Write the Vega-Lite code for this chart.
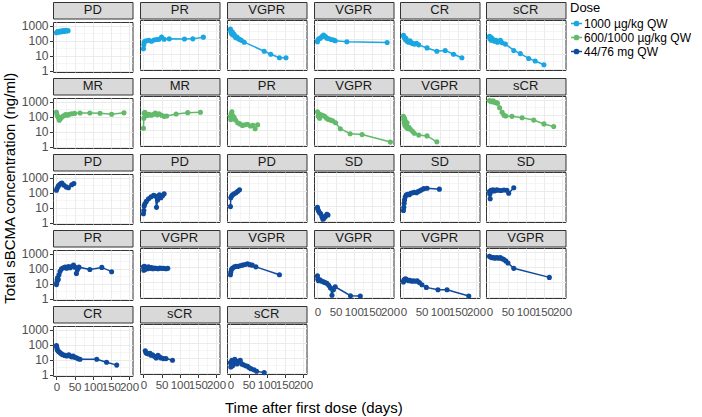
{
"$schema":"https://vega.github.io/schema/vega-lite/v6.json",
"padding":{"left":2,"right":2,"top":1,"bottom":2},
"title":{"text":"Time after first dose (days)","orient":"bottom","anchor":"middle","fontSize":15,"fontWeight":"normal","color":"#000000","offset":8,"dx":-33},
"data":{"values":[
{"p":1,"Dose":"1000 µg/kg QW","t":0,"v":350},{"p":1,"Dose":"1000 µg/kg QW","t":3,"v":420},{"p":1,"Dose":"1000 µg/kg QW","t":7,"v":380},{"p":1,"Dose":"1000 µg/kg QW","t":10,"v":450},{"p":1,"Dose":"1000 µg/kg QW","t":14,"v":400},{"p":1,"Dose":"1000 µg/kg QW","t":18,"v":480},{"p":1,"Dose":"1000 µg/kg QW","t":21,"v":420},{"p":1,"Dose":"1000 µg/kg QW","t":25,"v":500},{"p":1,"Dose":"1000 µg/kg QW","t":28,"v":450},{"p":1,"Dose":"1000 µg/kg QW","t":32,"v":480},
{"p":2,"Dose":"1000 µg/kg QW","t":0,"v":22},{"p":2,"Dose":"1000 µg/kg QW","t":1,"v":40},{"p":2,"Dose":"1000 µg/kg QW","t":2,"v":60},{"p":2,"Dose":"1000 µg/kg QW","t":4,"v":70},{"p":2,"Dose":"1000 µg/kg QW","t":8,"v":75},{"p":2,"Dose":"1000 µg/kg QW","t":15,"v":80},{"p":2,"Dose":"1000 µg/kg QW","t":22,"v":70},{"p":2,"Dose":"1000 µg/kg QW","t":29,"v":85},{"p":2,"Dose":"1000 µg/kg QW","t":36,"v":90},{"p":2,"Dose":"1000 µg/kg QW","t":43,"v":95},{"p":2,"Dose":"1000 µg/kg QW","t":50,"v":130},{"p":2,"Dose":"1000 µg/kg QW","t":57,"v":95},{"p":2,"Dose":"1000 µg/kg QW","t":71,"v":100},{"p":2,"Dose":"1000 µg/kg QW","t":113,"v":98},{"p":2,"Dose":"1000 µg/kg QW","t":136,"v":100},{"p":2,"Dose":"1000 µg/kg QW","t":165,"v":130},
{"p":3,"Dose":"1000 µg/kg QW","t":0,"v":450},{"p":3,"Dose":"1000 µg/kg QW","t":1,"v":300},{"p":3,"Dose":"1000 µg/kg QW","t":3,"v":220},{"p":3,"Dose":"1000 µg/kg QW","t":5,"v":300},{"p":3,"Dose":"1000 µg/kg QW","t":7,"v":180},{"p":3,"Dose":"1000 µg/kg QW","t":10,"v":200},{"p":3,"Dose":"1000 µg/kg QW","t":12,"v":150},{"p":3,"Dose":"1000 µg/kg QW","t":15,"v":120},{"p":3,"Dose":"1000 µg/kg QW","t":18,"v":130},{"p":3,"Dose":"1000 µg/kg QW","t":22,"v":100},{"p":3,"Dose":"1000 µg/kg QW","t":26,"v":90},{"p":3,"Dose":"1000 µg/kg QW","t":30,"v":80},{"p":3,"Dose":"1000 µg/kg QW","t":38,"v":60},{"p":3,"Dose":"1000 µg/kg QW","t":93,"v":15},{"p":3,"Dose":"1000 µg/kg QW","t":111,"v":9.5},{"p":3,"Dose":"1000 µg/kg QW","t":135,"v":5.5},{"p":3,"Dose":"1000 µg/kg QW","t":153,"v":5.5},
{"p":4,"Dose":"1000 µg/kg QW","t":0,"v":65},{"p":4,"Dose":"1000 µg/kg QW","t":1,"v":85},{"p":4,"Dose":"1000 µg/kg QW","t":4,"v":100},{"p":4,"Dose":"1000 µg/kg QW","t":8,"v":110},{"p":4,"Dose":"1000 µg/kg QW","t":12,"v":140},{"p":4,"Dose":"1000 µg/kg QW","t":17,"v":180},{"p":4,"Dose":"1000 µg/kg QW","t":22,"v":140},{"p":4,"Dose":"1000 µg/kg QW","t":26,"v":110},{"p":4,"Dose":"1000 µg/kg QW","t":31,"v":105},{"p":4,"Dose":"1000 µg/kg QW","t":38,"v":90},{"p":4,"Dose":"1000 µg/kg QW","t":45,"v":85},{"p":4,"Dose":"1000 µg/kg QW","t":49,"v":75},{"p":4,"Dose":"1000 µg/kg QW","t":81,"v":64},{"p":4,"Dose":"1000 µg/kg QW","t":192,"v":58},
{"p":5,"Dose":"1000 µg/kg QW","t":0,"v":170},{"p":5,"Dose":"1000 µg/kg QW","t":1,"v":150},{"p":5,"Dose":"1000 µg/kg QW","t":3,"v":120},{"p":5,"Dose":"1000 µg/kg QW","t":5,"v":90},{"p":5,"Dose":"1000 µg/kg QW","t":7,"v":110},{"p":5,"Dose":"1000 µg/kg QW","t":10,"v":70},{"p":5,"Dose":"1000 µg/kg QW","t":14,"v":60},{"p":5,"Dose":"1000 µg/kg QW","t":18,"v":75},{"p":5,"Dose":"1000 µg/kg QW","t":22,"v":55},{"p":5,"Dose":"1000 µg/kg QW","t":25,"v":50},{"p":5,"Dose":"1000 µg/kg QW","t":30,"v":45},{"p":5,"Dose":"1000 µg/kg QW","t":36,"v":50},{"p":5,"Dose":"1000 µg/kg QW","t":42,"v":40},{"p":5,"Dose":"1000 µg/kg QW","t":65,"v":25},{"p":5,"Dose":"1000 µg/kg QW","t":92,"v":15},{"p":5,"Dose":"1000 µg/kg QW","t":115,"v":17},{"p":5,"Dose":"1000 µg/kg QW","t":138,"v":9.5},{"p":5,"Dose":"1000 µg/kg QW","t":161,"v":5.5},
{"p":6,"Dose":"1000 µg/kg QW","t":0,"v":150},{"p":6,"Dose":"1000 µg/kg QW","t":1,"v":100},{"p":6,"Dose":"1000 µg/kg QW","t":3,"v":130},{"p":6,"Dose":"1000 µg/kg QW","t":5,"v":80},{"p":6,"Dose":"1000 µg/kg QW","t":7,"v":110},{"p":6,"Dose":"1000 µg/kg QW","t":10,"v":90},{"p":6,"Dose":"1000 µg/kg QW","t":14,"v":70},{"p":6,"Dose":"1000 µg/kg QW","t":18,"v":80},{"p":6,"Dose":"1000 µg/kg QW","t":22,"v":60},{"p":6,"Dose":"1000 µg/kg QW","t":26,"v":70},{"p":6,"Dose":"1000 µg/kg QW","t":30,"v":80},{"p":6,"Dose":"1000 µg/kg QW","t":35,"v":55},{"p":6,"Dose":"1000 µg/kg QW","t":44,"v":45},{"p":6,"Dose":"1000 µg/kg QW","t":67,"v":17},{"p":6,"Dose":"1000 µg/kg QW","t":85,"v":10.5},{"p":6,"Dose":"1000 µg/kg QW","t":108,"v":5},{"p":6,"Dose":"1000 µg/kg QW","t":126,"v":3.4},{"p":6,"Dose":"1000 µg/kg QW","t":150,"v":1.9},
{"p":7,"Dose":"600/1000 µg/kg QW","t":0,"v":200},{"p":7,"Dose":"600/1000 µg/kg QW","t":2,"v":130},{"p":7,"Dose":"600/1000 µg/kg QW","t":5,"v":90},{"p":7,"Dose":"600/1000 µg/kg QW","t":8,"v":60},{"p":7,"Dose":"600/1000 µg/kg QW","t":12,"v":80},{"p":7,"Dose":"600/1000 µg/kg QW","t":16,"v":100},{"p":7,"Dose":"600/1000 µg/kg QW","t":20,"v":120},{"p":7,"Dose":"600/1000 µg/kg QW","t":25,"v":140},{"p":7,"Dose":"600/1000 µg/kg QW","t":30,"v":130},{"p":7,"Dose":"600/1000 µg/kg QW","t":35,"v":150},{"p":7,"Dose":"600/1000 µg/kg QW","t":42,"v":160},{"p":7,"Dose":"600/1000 µg/kg QW","t":50,"v":170},{"p":7,"Dose":"600/1000 µg/kg QW","t":65,"v":180},{"p":7,"Dose":"600/1000 µg/kg QW","t":92,"v":180},{"p":7,"Dose":"600/1000 µg/kg QW","t":120,"v":175},{"p":7,"Dose":"600/1000 µg/kg QW","t":152,"v":150},{"p":7,"Dose":"600/1000 µg/kg QW","t":186,"v":185},
{"p":8,"Dose":"600/1000 µg/kg QW","t":0,"v":13},{"p":8,"Dose":"600/1000 µg/kg QW","t":1,"v":60},{"p":8,"Dose":"600/1000 µg/kg QW","t":2,"v":130},{"p":8,"Dose":"600/1000 µg/kg QW","t":4,"v":150},{"p":8,"Dose":"600/1000 µg/kg QW","t":7,"v":100},{"p":8,"Dose":"600/1000 µg/kg QW","t":10,"v":90},{"p":8,"Dose":"600/1000 µg/kg QW","t":14,"v":110},{"p":8,"Dose":"600/1000 µg/kg QW","t":18,"v":100},{"p":8,"Dose":"600/1000 µg/kg QW","t":22,"v":95},{"p":8,"Dose":"600/1000 µg/kg QW","t":28,"v":110},{"p":8,"Dose":"600/1000 µg/kg QW","t":33,"v":130},{"p":8,"Dose":"600/1000 µg/kg QW","t":38,"v":100},{"p":8,"Dose":"600/1000 µg/kg QW","t":43,"v":120},{"p":8,"Dose":"600/1000 µg/kg QW","t":50,"v":95},{"p":8,"Dose":"600/1000 µg/kg QW","t":57,"v":80},{"p":8,"Dose":"600/1000 µg/kg QW","t":64,"v":85},{"p":8,"Dose":"600/1000 µg/kg QW","t":90,"v":115},{"p":8,"Dose":"600/1000 µg/kg QW","t":122,"v":140},{"p":8,"Dose":"600/1000 µg/kg QW","t":157,"v":150},
{"p":9,"Dose":"600/1000 µg/kg QW","t":0,"v":80},{"p":9,"Dose":"600/1000 µg/kg QW","t":1,"v":50},{"p":9,"Dose":"600/1000 µg/kg QW","t":2,"v":120},{"p":9,"Dose":"600/1000 µg/kg QW","t":4,"v":160},{"p":9,"Dose":"600/1000 µg/kg QW","t":6,"v":90},{"p":9,"Dose":"600/1000 µg/kg QW","t":8,"v":60},{"p":9,"Dose":"600/1000 µg/kg QW","t":10,"v":70},{"p":9,"Dose":"600/1000 µg/kg QW","t":14,"v":45},{"p":9,"Dose":"600/1000 µg/kg QW","t":20,"v":30},{"p":9,"Dose":"600/1000 µg/kg QW","t":26,"v":25},{"p":9,"Dose":"600/1000 µg/kg QW","t":33,"v":20},{"p":9,"Dose":"600/1000 µg/kg QW","t":40,"v":22},{"p":9,"Dose":"600/1000 µg/kg QW","t":47,"v":24},{"p":9,"Dose":"600/1000 µg/kg QW","t":55,"v":18},{"p":9,"Dose":"600/1000 µg/kg QW","t":62,"v":20},{"p":9,"Dose":"600/1000 µg/kg QW","t":68,"v":12},{"p":9,"Dose":"600/1000 µg/kg QW","t":75,"v":22},
{"p":10,"Dose":"600/1000 µg/kg QW","t":0,"v":160},{"p":10,"Dose":"600/1000 µg/kg QW","t":2,"v":80},{"p":10,"Dose":"600/1000 µg/kg QW","t":4,"v":120},{"p":10,"Dose":"600/1000 µg/kg QW","t":6,"v":60},{"p":10,"Dose":"600/1000 µg/kg QW","t":10,"v":100},{"p":10,"Dose":"600/1000 µg/kg QW","t":15,"v":90},{"p":10,"Dose":"600/1000 µg/kg QW","t":20,"v":80},{"p":10,"Dose":"600/1000 µg/kg QW","t":25,"v":60},{"p":10,"Dose":"600/1000 µg/kg QW","t":30,"v":50},{"p":10,"Dose":"600/1000 µg/kg QW","t":36,"v":45},{"p":10,"Dose":"600/1000 µg/kg QW","t":42,"v":40},{"p":10,"Dose":"600/1000 µg/kg QW","t":50,"v":30},{"p":10,"Dose":"600/1000 µg/kg QW","t":63,"v":12},{"p":10,"Dose":"600/1000 µg/kg QW","t":90,"v":5.6},{"p":10,"Dose":"600/1000 µg/kg QW","t":123,"v":5},{"p":10,"Dose":"600/1000 µg/kg QW","t":201,"v":1.55},
{"p":11,"Dose":"600/1000 µg/kg QW","t":0,"v":80},{"p":11,"Dose":"600/1000 µg/kg QW","t":1,"v":50},{"p":11,"Dose":"600/1000 µg/kg QW","t":2,"v":30},{"p":11,"Dose":"600/1000 µg/kg QW","t":3,"v":60},{"p":11,"Dose":"600/1000 µg/kg QW","t":4,"v":20},{"p":11,"Dose":"600/1000 µg/kg QW","t":5,"v":40},{"p":11,"Dose":"600/1000 µg/kg QW","t":6,"v":25},{"p":11,"Dose":"600/1000 µg/kg QW","t":8,"v":15},{"p":11,"Dose":"600/1000 µg/kg QW","t":10,"v":30},{"p":11,"Dose":"600/1000 µg/kg QW","t":12,"v":12},{"p":11,"Dose":"600/1000 µg/kg QW","t":15,"v":15},{"p":11,"Dose":"600/1000 µg/kg QW","t":19,"v":11},{"p":11,"Dose":"600/1000 µg/kg QW","t":25,"v":8},{"p":11,"Dose":"600/1000 µg/kg QW","t":30,"v":6},{"p":11,"Dose":"600/1000 µg/kg QW","t":42,"v":4.5},{"p":11,"Dose":"600/1000 µg/kg QW","t":65,"v":4},{"p":11,"Dose":"600/1000 µg/kg QW","t":92,"v":1.6},
{"p":12,"Dose":"600/1000 µg/kg QW","t":0,"v":900},{"p":12,"Dose":"600/1000 µg/kg QW","t":3,"v":800},{"p":12,"Dose":"600/1000 µg/kg QW","t":7,"v":750},{"p":12,"Dose":"600/1000 µg/kg QW","t":10,"v":850},{"p":12,"Dose":"600/1000 µg/kg QW","t":14,"v":700},{"p":12,"Dose":"600/1000 µg/kg QW","t":18,"v":650},{"p":12,"Dose":"600/1000 µg/kg QW","t":22,"v":600},{"p":12,"Dose":"600/1000 µg/kg QW","t":28,"v":300},{"p":12,"Dose":"600/1000 µg/kg QW","t":35,"v":150},{"p":12,"Dose":"600/1000 µg/kg QW","t":40,"v":95},{"p":12,"Dose":"600/1000 µg/kg QW","t":45,"v":85},{"p":12,"Dose":"600/1000 µg/kg QW","t":62,"v":80},{"p":12,"Dose":"600/1000 µg/kg QW","t":90,"v":65},{"p":12,"Dose":"600/1000 µg/kg QW","t":122,"v":45},{"p":12,"Dose":"600/1000 µg/kg QW","t":150,"v":25},{"p":12,"Dose":"600/1000 µg/kg QW","t":177,"v":17},
{"p":13,"Dose":"44/76 mg QW","t":0,"v":150},{"p":13,"Dose":"44/76 mg QW","t":2,"v":200},{"p":13,"Dose":"44/76 mg QW","t":5,"v":280},{"p":13,"Dose":"44/76 mg QW","t":8,"v":350},{"p":13,"Dose":"44/76 mg QW","t":12,"v":420},{"p":13,"Dose":"44/76 mg QW","t":15,"v":450},{"p":13,"Dose":"44/76 mg QW","t":20,"v":330},{"p":13,"Dose":"44/76 mg QW","t":27,"v":250},{"p":13,"Dose":"44/76 mg QW","t":33,"v":220},{"p":13,"Dose":"44/76 mg QW","t":42,"v":350},{"p":13,"Dose":"44/76 mg QW","t":48,"v":420},
{"p":14,"Dose":"44/76 mg QW","t":0,"v":3},{"p":14,"Dose":"44/76 mg QW","t":1,"v":5},{"p":14,"Dose":"44/76 mg QW","t":2,"v":10},{"p":14,"Dose":"44/76 mg QW","t":4,"v":14},{"p":14,"Dose":"44/76 mg QW","t":8,"v":20},{"p":14,"Dose":"44/76 mg QW","t":14,"v":30},{"p":14,"Dose":"44/76 mg QW","t":21,"v":40},{"p":14,"Dose":"44/76 mg QW","t":28,"v":50},{"p":14,"Dose":"44/76 mg QW","t":33,"v":45},{"p":14,"Dose":"44/76 mg QW","t":36,"v":8},{"p":14,"Dose":"44/76 mg QW","t":39,"v":25},{"p":14,"Dose":"44/76 mg QW","t":44,"v":55},{"p":14,"Dose":"44/76 mg QW","t":48,"v":35},{"p":14,"Dose":"44/76 mg QW","t":53,"v":50},{"p":14,"Dose":"44/76 mg QW","t":57,"v":65},
{"p":15,"Dose":"44/76 mg QW","t":0,"v":9},{"p":15,"Dose":"44/76 mg QW","t":1,"v":35},{"p":15,"Dose":"44/76 mg QW","t":3,"v":45},{"p":15,"Dose":"44/76 mg QW","t":6,"v":55},{"p":15,"Dose":"44/76 mg QW","t":10,"v":65},{"p":15,"Dose":"44/76 mg QW","t":15,"v":75},{"p":15,"Dose":"44/76 mg QW","t":20,"v":95},{"p":15,"Dose":"44/76 mg QW","t":25,"v":120},
{"p":16,"Dose":"44/76 mg QW","t":0,"v":8},{"p":16,"Dose":"44/76 mg QW","t":1,"v":6},{"p":16,"Dose":"44/76 mg QW","t":3,"v":4.5},{"p":16,"Dose":"44/76 mg QW","t":6,"v":3.5},{"p":16,"Dose":"44/76 mg QW","t":9,"v":3},{"p":16,"Dose":"44/76 mg QW","t":12,"v":2},{"p":16,"Dose":"44/76 mg QW","t":15,"v":1.3},{"p":16,"Dose":"44/76 mg QW","t":18,"v":1.5},{"p":16,"Dose":"44/76 mg QW","t":22,"v":2},{"p":16,"Dose":"44/76 mg QW","t":26,"v":2.8},{"p":16,"Dose":"44/76 mg QW","t":29,"v":2.5},
{"p":17,"Dose":"44/76 mg QW","t":0,"v":5},{"p":17,"Dose":"44/76 mg QW","t":1,"v":8},{"p":17,"Dose":"44/76 mg QW","t":2,"v":15},{"p":17,"Dose":"44/76 mg QW","t":3,"v":25},{"p":17,"Dose":"44/76 mg QW","t":5,"v":40},{"p":17,"Dose":"44/76 mg QW","t":8,"v":55},{"p":17,"Dose":"44/76 mg QW","t":12,"v":60},{"p":17,"Dose":"44/76 mg QW","t":16,"v":55},{"p":17,"Dose":"44/76 mg QW","t":20,"v":70},{"p":17,"Dose":"44/76 mg QW","t":25,"v":75},{"p":17,"Dose":"44/76 mg QW","t":30,"v":80},{"p":17,"Dose":"44/76 mg QW","t":36,"v":75},{"p":17,"Dose":"44/76 mg QW","t":40,"v":90},{"p":17,"Dose":"44/76 mg QW","t":45,"v":100},{"p":17,"Dose":"44/76 mg QW","t":50,"v":120},{"p":17,"Dose":"44/76 mg QW","t":56,"v":140},{"p":17,"Dose":"44/76 mg QW","t":65,"v":150},{"p":17,"Dose":"44/76 mg QW","t":99,"v":130},
{"p":18,"Dose":"44/76 mg QW","t":0,"v":90},{"p":18,"Dose":"44/76 mg QW","t":1,"v":60},{"p":18,"Dose":"44/76 mg QW","t":2,"v":30},{"p":18,"Dose":"44/76 mg QW","t":4,"v":110},{"p":18,"Dose":"44/76 mg QW","t":7,"v":95},{"p":18,"Dose":"44/76 mg QW","t":10,"v":120},{"p":18,"Dose":"44/76 mg QW","t":15,"v":100},{"p":18,"Dose":"44/76 mg QW","t":20,"v":120},{"p":18,"Dose":"44/76 mg QW","t":25,"v":110},{"p":18,"Dose":"44/76 mg QW","t":32,"v":105},{"p":18,"Dose":"44/76 mg QW","t":40,"v":115},{"p":18,"Dose":"44/76 mg QW","t":48,"v":110},{"p":18,"Dose":"44/76 mg QW","t":53,"v":70},{"p":18,"Dose":"44/76 mg QW","t":67,"v":160},
{"p":19,"Dose":"44/76 mg QW","t":0,"v":9},{"p":19,"Dose":"44/76 mg QW","t":1,"v":12},{"p":19,"Dose":"44/76 mg QW","t":2,"v":18},{"p":19,"Dose":"44/76 mg QW","t":3,"v":25},{"p":19,"Dose":"44/76 mg QW","t":5,"v":20},{"p":19,"Dose":"44/76 mg QW","t":7,"v":40},{"p":19,"Dose":"44/76 mg QW","t":10,"v":70},{"p":19,"Dose":"44/76 mg QW","t":14,"v":100},{"p":19,"Dose":"44/76 mg QW","t":19,"v":120},{"p":19,"Dose":"44/76 mg QW","t":24,"v":130},{"p":19,"Dose":"44/76 mg QW","t":28,"v":110},{"p":19,"Dose":"44/76 mg QW","t":33,"v":140},{"p":19,"Dose":"44/76 mg QW","t":38,"v":120},{"p":19,"Dose":"44/76 mg QW","t":43,"v":150},{"p":19,"Dose":"44/76 mg QW","t":47,"v":180},{"p":19,"Dose":"44/76 mg QW","t":51,"v":130},{"p":19,"Dose":"44/76 mg QW","t":55,"v":50},{"p":19,"Dose":"44/76 mg QW","t":58,"v":90},{"p":19,"Dose":"44/76 mg QW","t":62,"v":130},{"p":19,"Dose":"44/76 mg QW","t":92,"v":90},{"p":19,"Dose":"44/76 mg QW","t":125,"v":125},{"p":19,"Dose":"44/76 mg QW","t":152,"v":65},
{"p":20,"Dose":"44/76 mg QW","t":0,"v":100},{"p":20,"Dose":"44/76 mg QW","t":1,"v":60},{"p":20,"Dose":"44/76 mg QW","t":2,"v":80},{"p":20,"Dose":"44/76 mg QW","t":3,"v":110},{"p":20,"Dose":"44/76 mg QW","t":5,"v":70},{"p":20,"Dose":"44/76 mg QW","t":8,"v":90},{"p":20,"Dose":"44/76 mg QW","t":11,"v":75},{"p":20,"Dose":"44/76 mg QW","t":14,"v":100},{"p":20,"Dose":"44/76 mg QW","t":18,"v":80},{"p":20,"Dose":"44/76 mg QW","t":22,"v":90},{"p":20,"Dose":"44/76 mg QW","t":26,"v":75},{"p":20,"Dose":"44/76 mg QW","t":30,"v":85},{"p":20,"Dose":"44/76 mg QW","t":35,"v":80},{"p":20,"Dose":"44/76 mg QW","t":40,"v":75},{"p":20,"Dose":"44/76 mg QW","t":45,"v":85},{"p":20,"Dose":"44/76 mg QW","t":50,"v":80},{"p":20,"Dose":"44/76 mg QW","t":56,"v":80},{"p":20,"Dose":"44/76 mg QW","t":62,"v":75},{"p":20,"Dose":"44/76 mg QW","t":67,"v":80},
{"p":21,"Dose":"44/76 mg QW","t":0,"v":30},{"p":21,"Dose":"44/76 mg QW","t":1,"v":45},{"p":21,"Dose":"44/76 mg QW","t":3,"v":70},{"p":21,"Dose":"44/76 mg QW","t":6,"v":85},{"p":21,"Dose":"44/76 mg QW","t":11,"v":100},{"p":21,"Dose":"44/76 mg QW","t":16,"v":110},{"p":21,"Dose":"44/76 mg QW","t":20,"v":105},{"p":21,"Dose":"44/76 mg QW","t":26,"v":120},{"p":21,"Dose":"44/76 mg QW","t":33,"v":130},{"p":21,"Dose":"44/76 mg QW","t":40,"v":145},{"p":21,"Dose":"44/76 mg QW","t":47,"v":160},{"p":21,"Dose":"44/76 mg QW","t":53,"v":140},{"p":21,"Dose":"44/76 mg QW","t":60,"v":130},{"p":21,"Dose":"44/76 mg QW","t":70,"v":100},{"p":21,"Dose":"44/76 mg QW","t":135,"v":30},
{"p":22,"Dose":"44/76 mg QW","t":0,"v":25},{"p":22,"Dose":"44/76 mg QW","t":1,"v":15},{"p":22,"Dose":"44/76 mg QW","t":3,"v":12},{"p":22,"Dose":"44/76 mg QW","t":7,"v":14},{"p":22,"Dose":"44/76 mg QW","t":12,"v":11},{"p":22,"Dose":"44/76 mg QW","t":17,"v":10},{"p":22,"Dose":"44/76 mg QW","t":21,"v":9},{"p":22,"Dose":"44/76 mg QW","t":26,"v":8},{"p":22,"Dose":"44/76 mg QW","t":31,"v":6},{"p":22,"Dose":"44/76 mg QW","t":36,"v":4},{"p":22,"Dose":"44/76 mg QW","t":40,"v":1.3},{"p":22,"Dose":"44/76 mg QW","t":44,"v":3},{"p":22,"Dose":"44/76 mg QW","t":49,"v":4.7},{"p":22,"Dose":"44/76 mg QW","t":91,"v":1.2},{"p":22,"Dose":"44/76 mg QW","t":118,"v":1.15},
{"p":23,"Dose":"44/76 mg QW","t":0,"v":10},{"p":23,"Dose":"44/76 mg QW","t":1,"v":13},{"p":23,"Dose":"44/76 mg QW","t":3,"v":15},{"p":23,"Dose":"44/76 mg QW","t":6,"v":16},{"p":23,"Dose":"44/76 mg QW","t":10,"v":14},{"p":23,"Dose":"44/76 mg QW","t":14,"v":12},{"p":23,"Dose":"44/76 mg QW","t":18,"v":13},{"p":23,"Dose":"44/76 mg QW","t":23,"v":11},{"p":23,"Dose":"44/76 mg QW","t":28,"v":12},{"p":23,"Dose":"44/76 mg QW","t":33,"v":11},{"p":23,"Dose":"44/76 mg QW","t":38,"v":12},{"p":23,"Dose":"44/76 mg QW","t":44,"v":9},{"p":23,"Dose":"44/76 mg QW","t":51,"v":6.5},{"p":23,"Dose":"44/76 mg QW","t":63,"v":4.3},{"p":23,"Dose":"44/76 mg QW","t":95,"v":3},{"p":23,"Dose":"44/76 mg QW","t":120,"v":3},{"p":23,"Dose":"44/76 mg QW","t":180,"v":1.15},
{"p":24,"Dose":"44/76 mg QW","t":0,"v":500},{"p":24,"Dose":"44/76 mg QW","t":3,"v":450},{"p":24,"Dose":"44/76 mg QW","t":7,"v":400},{"p":24,"Dose":"44/76 mg QW","t":11,"v":420},{"p":24,"Dose":"44/76 mg QW","t":15,"v":380},{"p":24,"Dose":"44/76 mg QW","t":20,"v":420},{"p":24,"Dose":"44/76 mg QW","t":25,"v":380},{"p":24,"Dose":"44/76 mg QW","t":30,"v":420},{"p":24,"Dose":"44/76 mg QW","t":35,"v":350},{"p":24,"Dose":"44/76 mg QW","t":39,"v":320},{"p":24,"Dose":"44/76 mg QW","t":45,"v":250},{"p":24,"Dose":"44/76 mg QW","t":51,"v":180},{"p":24,"Dose":"44/76 mg QW","t":67,"v":80},{"p":24,"Dose":"44/76 mg QW","t":165,"v":20},
{"p":25,"Dose":"44/76 mg QW","t":0,"v":90},{"p":25,"Dose":"44/76 mg QW","t":1,"v":70},{"p":25,"Dose":"44/76 mg QW","t":2,"v":50},{"p":25,"Dose":"44/76 mg QW","t":4,"v":40},{"p":25,"Dose":"44/76 mg QW","t":7,"v":35},{"p":25,"Dose":"44/76 mg QW","t":10,"v":30},{"p":25,"Dose":"44/76 mg QW","t":14,"v":25},{"p":25,"Dose":"44/76 mg QW","t":18,"v":22},{"p":25,"Dose":"44/76 mg QW","t":23,"v":20},{"p":25,"Dose":"44/76 mg QW","t":28,"v":18},{"p":25,"Dose":"44/76 mg QW","t":34,"v":22},{"p":25,"Dose":"44/76 mg QW","t":38,"v":18},{"p":25,"Dose":"44/76 mg QW","t":42,"v":16},{"p":25,"Dose":"44/76 mg QW","t":46,"v":18},{"p":25,"Dose":"44/76 mg QW","t":50,"v":15},{"p":25,"Dose":"44/76 mg QW","t":55,"v":14},{"p":25,"Dose":"44/76 mg QW","t":60,"v":12},{"p":25,"Dose":"44/76 mg QW","t":65,"v":11},{"p":25,"Dose":"44/76 mg QW","t":111,"v":11},{"p":25,"Dose":"44/76 mg QW","t":138,"v":7},{"p":25,"Dose":"44/76 mg QW","t":166,"v":4.5},
{"p":26,"Dose":"44/76 mg QW","t":5,"v":30},{"p":26,"Dose":"44/76 mg QW","t":7,"v":22},{"p":26,"Dose":"44/76 mg QW","t":10,"v":20},{"p":26,"Dose":"44/76 mg QW","t":14,"v":18},{"p":26,"Dose":"44/76 mg QW","t":18,"v":20},{"p":26,"Dose":"44/76 mg QW","t":21,"v":15},{"p":26,"Dose":"44/76 mg QW","t":25,"v":16},{"p":26,"Dose":"44/76 mg QW","t":30,"v":13},{"p":26,"Dose":"44/76 mg QW","t":35,"v":10},{"p":26,"Dose":"44/76 mg QW","t":40,"v":15},{"p":26,"Dose":"44/76 mg QW","t":44,"v":12},{"p":26,"Dose":"44/76 mg QW","t":48,"v":10},{"p":26,"Dose":"44/76 mg QW","t":55,"v":9},{"p":26,"Dose":"44/76 mg QW","t":62,"v":9},{"p":26,"Dose":"44/76 mg QW","t":80,"v":7},
{"p":27,"Dose":"44/76 mg QW","t":0,"v":5},{"p":27,"Dose":"44/76 mg QW","t":1,"v":2.5},{"p":27,"Dose":"44/76 mg QW","t":2,"v":4},{"p":27,"Dose":"44/76 mg QW","t":4,"v":7},{"p":27,"Dose":"44/76 mg QW","t":6,"v":3},{"p":27,"Dose":"44/76 mg QW","t":9,"v":5},{"p":27,"Dose":"44/76 mg QW","t":12,"v":8},{"p":27,"Dose":"44/76 mg QW","t":15,"v":5},{"p":27,"Dose":"44/76 mg QW","t":18,"v":4},{"p":27,"Dose":"44/76 mg QW","t":22,"v":6},{"p":27,"Dose":"44/76 mg QW","t":27,"v":7},{"p":27,"Dose":"44/76 mg QW","t":31,"v":4},{"p":27,"Dose":"44/76 mg QW","t":36,"v":3.5},{"p":27,"Dose":"44/76 mg QW","t":42,"v":3},{"p":27,"Dose":"44/76 mg QW","t":47,"v":2.8},{"p":27,"Dose":"44/76 mg QW","t":52,"v":2.2},{"p":27,"Dose":"44/76 mg QW","t":57,"v":1.9},{"p":27,"Dose":"44/76 mg QW","t":65,"v":1.6},{"p":27,"Dose":"44/76 mg QW","t":72,"v":1.3},{"p":27,"Dose":"44/76 mg QW","t":93,"v":1.05}
]},
"vconcat":[{
"title":{"text":"Total sBCMA concentration (ng/ml)","orient":"left","anchor":"middle","fontSize":15,"fontWeight":"normal","color":"#000000","offset":3,"dx":9},
"columns":6,
"align":"each",
"spacing":{"row":-5.75,"column":-1.5},
"concat":[
{"spacing":0,"vconcat":[{"data":{"values":[{"r":"PD"}]},"width":79.5,"height":16.5,"view":{"fill":"#d9d9d9","stroke":"#333333"},"mark":{"type":"text","fontSize":13,"color":"#1a1a1a"},"encoding":{"text":{"field":"r","type":"nominal"}}},
{"width":79.5,"height":50,"transform":[{"filter":"datum.p==1"}],"mark":{"type":"line","strokeWidth":1.5,"point":{"filled":true,"size":26}},"encoding":{"x":{"field":"t","type":"quantitative","scale":{"domain":[-9.5,209.5],"nice":false,"zero":false},"axis":{"title":null,"values":[0,25,50,75,100,125,150,175,200],"labels":false,"ticks":false,"gridWidth":{"condition":{"test":"datum.value % 50 != 0","value":0.5},"value":1}}},"y":{"field":"v","type":"quantitative","scale":{"type":"log","domain":[0.85,1800],"nice":false},"axis":{"title":null,"values":[1,3.1623,10,31.623,100,316.23,1000],"labelExpr":"indexof([1,10,100,1000],datum.value) >= 0 ? format(datum.value,'d') : ''","tickOpacity":{"condition":{"test":"indexof([1,10,100,1000],datum.value) < 0","value":0},"value":1},"gridWidth":{"condition":{"test":"indexof([1,10,100,1000],datum.value) < 0","value":0.5},"value":1}}},"color":{"field":"Dose","type":"nominal","scale":{"domain":["1000 µg/kg QW","600/1000 µg/kg QW","44/76 mg QW"],"range":["#1aa7e1","#63ba6b","#0f4a9c"]}}}}]},
{"spacing":0,"vconcat":[{"data":{"values":[{"r":"PR"}]},"width":79.5,"height":16.5,"view":{"fill":"#d9d9d9","stroke":"#333333"},"mark":{"type":"text","fontSize":13,"color":"#1a1a1a"},"encoding":{"text":{"field":"r","type":"nominal"}}},
{"width":79.5,"height":50,"transform":[{"filter":"datum.p==2"}],"mark":{"type":"line","strokeWidth":1.5,"point":{"filled":true,"size":26}},"encoding":{"x":{"field":"t","type":"quantitative","scale":{"domain":[-9.5,209.5],"nice":false,"zero":false},"axis":{"title":null,"values":[0,25,50,75,100,125,150,175,200],"labels":false,"ticks":false,"gridWidth":{"condition":{"test":"datum.value % 50 != 0","value":0.5},"value":1}}},"y":{"field":"v","type":"quantitative","scale":{"type":"log","domain":[0.85,1800],"nice":false},"axis":{"title":null,"values":[1,3.1623,10,31.623,100,316.23,1000],"labels":false,"ticks":false,"gridWidth":{"condition":{"test":"indexof([1,10,100,1000],datum.value) < 0","value":0.5},"value":1}}},"color":{"field":"Dose","type":"nominal","scale":{"domain":["1000 µg/kg QW","600/1000 µg/kg QW","44/76 mg QW"],"range":["#1aa7e1","#63ba6b","#0f4a9c"]}}}}]},
{"spacing":0,"vconcat":[{"data":{"values":[{"r":"VGPR"}]},"width":79.5,"height":16.5,"view":{"fill":"#d9d9d9","stroke":"#333333"},"mark":{"type":"text","fontSize":13,"color":"#1a1a1a"},"encoding":{"text":{"field":"r","type":"nominal"}}},
{"width":79.5,"height":50,"transform":[{"filter":"datum.p==3"}],"mark":{"type":"line","strokeWidth":1.5,"point":{"filled":true,"size":26}},"encoding":{"x":{"field":"t","type":"quantitative","scale":{"domain":[-9.5,209.5],"nice":false,"zero":false},"axis":{"title":null,"values":[0,25,50,75,100,125,150,175,200],"labels":false,"ticks":false,"gridWidth":{"condition":{"test":"datum.value % 50 != 0","value":0.5},"value":1}}},"y":{"field":"v","type":"quantitative","scale":{"type":"log","domain":[0.85,1800],"nice":false},"axis":{"title":null,"values":[1,3.1623,10,31.623,100,316.23,1000],"labels":false,"ticks":false,"gridWidth":{"condition":{"test":"indexof([1,10,100,1000],datum.value) < 0","value":0.5},"value":1}}},"color":{"field":"Dose","type":"nominal","scale":{"domain":["1000 µg/kg QW","600/1000 µg/kg QW","44/76 mg QW"],"range":["#1aa7e1","#63ba6b","#0f4a9c"]}}}}]},
{"spacing":0,"vconcat":[{"data":{"values":[{"r":"VGPR"}]},"width":79.5,"height":16.5,"view":{"fill":"#d9d9d9","stroke":"#333333"},"mark":{"type":"text","fontSize":13,"color":"#1a1a1a"},"encoding":{"text":{"field":"r","type":"nominal"}}},
{"width":79.5,"height":50,"transform":[{"filter":"datum.p==4"}],"mark":{"type":"line","strokeWidth":1.5,"point":{"filled":true,"size":26}},"encoding":{"x":{"field":"t","type":"quantitative","scale":{"domain":[-9.5,209.5],"nice":false,"zero":false},"axis":{"title":null,"values":[0,25,50,75,100,125,150,175,200],"labels":false,"ticks":false,"gridWidth":{"condition":{"test":"datum.value % 50 != 0","value":0.5},"value":1}}},"y":{"field":"v","type":"quantitative","scale":{"type":"log","domain":[0.85,1800],"nice":false},"axis":{"title":null,"values":[1,3.1623,10,31.623,100,316.23,1000],"labels":false,"ticks":false,"gridWidth":{"condition":{"test":"indexof([1,10,100,1000],datum.value) < 0","value":0.5},"value":1}}},"color":{"field":"Dose","type":"nominal","scale":{"domain":["1000 µg/kg QW","600/1000 µg/kg QW","44/76 mg QW"],"range":["#1aa7e1","#63ba6b","#0f4a9c"]}}}}]},
{"spacing":0,"vconcat":[{"data":{"values":[{"r":"CR"}]},"width":79.5,"height":16.5,"view":{"fill":"#d9d9d9","stroke":"#333333"},"mark":{"type":"text","fontSize":13,"color":"#1a1a1a"},"encoding":{"text":{"field":"r","type":"nominal"}}},
{"width":79.5,"height":50,"transform":[{"filter":"datum.p==5"}],"mark":{"type":"line","strokeWidth":1.5,"point":{"filled":true,"size":26}},"encoding":{"x":{"field":"t","type":"quantitative","scale":{"domain":[-9.5,209.5],"nice":false,"zero":false},"axis":{"title":null,"values":[0,25,50,75,100,125,150,175,200],"labels":false,"ticks":false,"gridWidth":{"condition":{"test":"datum.value % 50 != 0","value":0.5},"value":1}}},"y":{"field":"v","type":"quantitative","scale":{"type":"log","domain":[0.85,1800],"nice":false},"axis":{"title":null,"values":[1,3.1623,10,31.623,100,316.23,1000],"labels":false,"ticks":false,"gridWidth":{"condition":{"test":"indexof([1,10,100,1000],datum.value) < 0","value":0.5},"value":1}}},"color":{"field":"Dose","type":"nominal","scale":{"domain":["1000 µg/kg QW","600/1000 µg/kg QW","44/76 mg QW"],"range":["#1aa7e1","#63ba6b","#0f4a9c"]}}}}]},
{"spacing":0,"vconcat":[{"data":{"values":[{"r":"sCR"}]},"width":79.5,"height":16.5,"view":{"fill":"#d9d9d9","stroke":"#333333"},"mark":{"type":"text","fontSize":13,"color":"#1a1a1a"},"encoding":{"text":{"field":"r","type":"nominal"}}},
{"width":79.5,"height":50,"transform":[{"filter":"datum.p==6"}],"mark":{"type":"line","strokeWidth":1.5,"point":{"filled":true,"size":26}},"encoding":{"x":{"field":"t","type":"quantitative","scale":{"domain":[-9.5,209.5],"nice":false,"zero":false},"axis":{"title":null,"values":[0,25,50,75,100,125,150,175,200],"labels":false,"ticks":false,"gridWidth":{"condition":{"test":"datum.value % 50 != 0","value":0.5},"value":1}}},"y":{"field":"v","type":"quantitative","scale":{"type":"log","domain":[0.85,1800],"nice":false},"axis":{"title":null,"values":[1,3.1623,10,31.623,100,316.23,1000],"labels":false,"ticks":false,"gridWidth":{"condition":{"test":"indexof([1,10,100,1000],datum.value) < 0","value":0.5},"value":1}}},"color":{"field":"Dose","type":"nominal","scale":{"domain":["1000 µg/kg QW","600/1000 µg/kg QW","44/76 mg QW"],"range":["#1aa7e1","#63ba6b","#0f4a9c"]}}}}]},
{"spacing":0,"vconcat":[{"data":{"values":[{"r":"MR"}]},"width":79.5,"height":16.5,"view":{"fill":"#d9d9d9","stroke":"#333333"},"mark":{"type":"text","fontSize":13,"color":"#1a1a1a"},"encoding":{"text":{"field":"r","type":"nominal"}}},
{"width":79.5,"height":50,"transform":[{"filter":"datum.p==7"}],"mark":{"type":"line","strokeWidth":1.5,"point":{"filled":true,"size":26}},"encoding":{"x":{"field":"t","type":"quantitative","scale":{"domain":[-9.5,209.5],"nice":false,"zero":false},"axis":{"title":null,"values":[0,25,50,75,100,125,150,175,200],"labels":false,"ticks":false,"gridWidth":{"condition":{"test":"datum.value % 50 != 0","value":0.5},"value":1}}},"y":{"field":"v","type":"quantitative","scale":{"type":"log","domain":[0.85,1800],"nice":false},"axis":{"title":null,"values":[1,3.1623,10,31.623,100,316.23,1000],"labelExpr":"indexof([1,10,100,1000],datum.value) >= 0 ? format(datum.value,'d') : ''","tickOpacity":{"condition":{"test":"indexof([1,10,100,1000],datum.value) < 0","value":0},"value":1},"gridWidth":{"condition":{"test":"indexof([1,10,100,1000],datum.value) < 0","value":0.5},"value":1}}},"color":{"field":"Dose","type":"nominal","scale":{"domain":["1000 µg/kg QW","600/1000 µg/kg QW","44/76 mg QW"],"range":["#1aa7e1","#63ba6b","#0f4a9c"]}}}}]},
{"spacing":0,"vconcat":[{"data":{"values":[{"r":"MR"}]},"width":79.5,"height":16.5,"view":{"fill":"#d9d9d9","stroke":"#333333"},"mark":{"type":"text","fontSize":13,"color":"#1a1a1a"},"encoding":{"text":{"field":"r","type":"nominal"}}},
{"width":79.5,"height":50,"transform":[{"filter":"datum.p==8"}],"mark":{"type":"line","strokeWidth":1.5,"point":{"filled":true,"size":26}},"encoding":{"x":{"field":"t","type":"quantitative","scale":{"domain":[-9.5,209.5],"nice":false,"zero":false},"axis":{"title":null,"values":[0,25,50,75,100,125,150,175,200],"labels":false,"ticks":false,"gridWidth":{"condition":{"test":"datum.value % 50 != 0","value":0.5},"value":1}}},"y":{"field":"v","type":"quantitative","scale":{"type":"log","domain":[0.85,1800],"nice":false},"axis":{"title":null,"values":[1,3.1623,10,31.623,100,316.23,1000],"labels":false,"ticks":false,"gridWidth":{"condition":{"test":"indexof([1,10,100,1000],datum.value) < 0","value":0.5},"value":1}}},"color":{"field":"Dose","type":"nominal","scale":{"domain":["1000 µg/kg QW","600/1000 µg/kg QW","44/76 mg QW"],"range":["#1aa7e1","#63ba6b","#0f4a9c"]}}}}]},
{"spacing":0,"vconcat":[{"data":{"values":[{"r":"PR"}]},"width":79.5,"height":16.5,"view":{"fill":"#d9d9d9","stroke":"#333333"},"mark":{"type":"text","fontSize":13,"color":"#1a1a1a"},"encoding":{"text":{"field":"r","type":"nominal"}}},
{"width":79.5,"height":50,"transform":[{"filter":"datum.p==9"}],"mark":{"type":"line","strokeWidth":1.5,"point":{"filled":true,"size":26}},"encoding":{"x":{"field":"t","type":"quantitative","scale":{"domain":[-9.5,209.5],"nice":false,"zero":false},"axis":{"title":null,"values":[0,25,50,75,100,125,150,175,200],"labels":false,"ticks":false,"gridWidth":{"condition":{"test":"datum.value % 50 != 0","value":0.5},"value":1}}},"y":{"field":"v","type":"quantitative","scale":{"type":"log","domain":[0.85,1800],"nice":false},"axis":{"title":null,"values":[1,3.1623,10,31.623,100,316.23,1000],"labels":false,"ticks":false,"gridWidth":{"condition":{"test":"indexof([1,10,100,1000],datum.value) < 0","value":0.5},"value":1}}},"color":{"field":"Dose","type":"nominal","scale":{"domain":["1000 µg/kg QW","600/1000 µg/kg QW","44/76 mg QW"],"range":["#1aa7e1","#63ba6b","#0f4a9c"]}}}}]},
{"spacing":0,"vconcat":[{"data":{"values":[{"r":"VGPR"}]},"width":79.5,"height":16.5,"view":{"fill":"#d9d9d9","stroke":"#333333"},"mark":{"type":"text","fontSize":13,"color":"#1a1a1a"},"encoding":{"text":{"field":"r","type":"nominal"}}},
{"width":79.5,"height":50,"transform":[{"filter":"datum.p==10"}],"mark":{"type":"line","strokeWidth":1.5,"point":{"filled":true,"size":26}},"encoding":{"x":{"field":"t","type":"quantitative","scale":{"domain":[-9.5,209.5],"nice":false,"zero":false},"axis":{"title":null,"values":[0,25,50,75,100,125,150,175,200],"labels":false,"ticks":false,"gridWidth":{"condition":{"test":"datum.value % 50 != 0","value":0.5},"value":1}}},"y":{"field":"v","type":"quantitative","scale":{"type":"log","domain":[0.85,1800],"nice":false},"axis":{"title":null,"values":[1,3.1623,10,31.623,100,316.23,1000],"labels":false,"ticks":false,"gridWidth":{"condition":{"test":"indexof([1,10,100,1000],datum.value) < 0","value":0.5},"value":1}}},"color":{"field":"Dose","type":"nominal","scale":{"domain":["1000 µg/kg QW","600/1000 µg/kg QW","44/76 mg QW"],"range":["#1aa7e1","#63ba6b","#0f4a9c"]}}}}]},
{"spacing":0,"vconcat":[{"data":{"values":[{"r":"VGPR"}]},"width":79.5,"height":16.5,"view":{"fill":"#d9d9d9","stroke":"#333333"},"mark":{"type":"text","fontSize":13,"color":"#1a1a1a"},"encoding":{"text":{"field":"r","type":"nominal"}}},
{"width":79.5,"height":50,"transform":[{"filter":"datum.p==11"}],"mark":{"type":"line","strokeWidth":1.5,"point":{"filled":true,"size":26}},"encoding":{"x":{"field":"t","type":"quantitative","scale":{"domain":[-9.5,209.5],"nice":false,"zero":false},"axis":{"title":null,"values":[0,25,50,75,100,125,150,175,200],"labels":false,"ticks":false,"gridWidth":{"condition":{"test":"datum.value % 50 != 0","value":0.5},"value":1}}},"y":{"field":"v","type":"quantitative","scale":{"type":"log","domain":[0.85,1800],"nice":false},"axis":{"title":null,"values":[1,3.1623,10,31.623,100,316.23,1000],"labels":false,"ticks":false,"gridWidth":{"condition":{"test":"indexof([1,10,100,1000],datum.value) < 0","value":0.5},"value":1}}},"color":{"field":"Dose","type":"nominal","scale":{"domain":["1000 µg/kg QW","600/1000 µg/kg QW","44/76 mg QW"],"range":["#1aa7e1","#63ba6b","#0f4a9c"]}}}}]},
{"spacing":0,"vconcat":[{"data":{"values":[{"r":"sCR"}]},"width":79.5,"height":16.5,"view":{"fill":"#d9d9d9","stroke":"#333333"},"mark":{"type":"text","fontSize":13,"color":"#1a1a1a"},"encoding":{"text":{"field":"r","type":"nominal"}}},
{"width":79.5,"height":50,"transform":[{"filter":"datum.p==12"}],"mark":{"type":"line","strokeWidth":1.5,"point":{"filled":true,"size":26}},"encoding":{"x":{"field":"t","type":"quantitative","scale":{"domain":[-9.5,209.5],"nice":false,"zero":false},"axis":{"title":null,"values":[0,25,50,75,100,125,150,175,200],"labels":false,"ticks":false,"gridWidth":{"condition":{"test":"datum.value % 50 != 0","value":0.5},"value":1}}},"y":{"field":"v","type":"quantitative","scale":{"type":"log","domain":[0.85,1800],"nice":false},"axis":{"title":null,"values":[1,3.1623,10,31.623,100,316.23,1000],"labels":false,"ticks":false,"gridWidth":{"condition":{"test":"indexof([1,10,100,1000],datum.value) < 0","value":0.5},"value":1}}},"color":{"field":"Dose","type":"nominal","scale":{"domain":["1000 µg/kg QW","600/1000 µg/kg QW","44/76 mg QW"],"range":["#1aa7e1","#63ba6b","#0f4a9c"]}}}}]},
{"spacing":0,"vconcat":[{"data":{"values":[{"r":"PD"}]},"width":79.5,"height":16.5,"view":{"fill":"#d9d9d9","stroke":"#333333"},"mark":{"type":"text","fontSize":13,"color":"#1a1a1a"},"encoding":{"text":{"field":"r","type":"nominal"}}},
{"width":79.5,"height":50,"transform":[{"filter":"datum.p==13"}],"mark":{"type":"line","strokeWidth":1.5,"point":{"filled":true,"size":26}},"encoding":{"x":{"field":"t","type":"quantitative","scale":{"domain":[-9.5,209.5],"nice":false,"zero":false},"axis":{"title":null,"values":[0,25,50,75,100,125,150,175,200],"labels":false,"ticks":false,"gridWidth":{"condition":{"test":"datum.value % 50 != 0","value":0.5},"value":1}}},"y":{"field":"v","type":"quantitative","scale":{"type":"log","domain":[0.85,1800],"nice":false},"axis":{"title":null,"values":[1,3.1623,10,31.623,100,316.23,1000],"labelExpr":"indexof([1,10,100,1000],datum.value) >= 0 ? format(datum.value,'d') : ''","tickOpacity":{"condition":{"test":"indexof([1,10,100,1000],datum.value) < 0","value":0},"value":1},"gridWidth":{"condition":{"test":"indexof([1,10,100,1000],datum.value) < 0","value":0.5},"value":1}}},"color":{"field":"Dose","type":"nominal","scale":{"domain":["1000 µg/kg QW","600/1000 µg/kg QW","44/76 mg QW"],"range":["#1aa7e1","#63ba6b","#0f4a9c"]}}}}]},
{"spacing":0,"vconcat":[{"data":{"values":[{"r":"PD"}]},"width":79.5,"height":16.5,"view":{"fill":"#d9d9d9","stroke":"#333333"},"mark":{"type":"text","fontSize":13,"color":"#1a1a1a"},"encoding":{"text":{"field":"r","type":"nominal"}}},
{"width":79.5,"height":50,"transform":[{"filter":"datum.p==14"}],"mark":{"type":"line","strokeWidth":1.5,"point":{"filled":true,"size":26}},"encoding":{"x":{"field":"t","type":"quantitative","scale":{"domain":[-9.5,209.5],"nice":false,"zero":false},"axis":{"title":null,"values":[0,25,50,75,100,125,150,175,200],"labels":false,"ticks":false,"gridWidth":{"condition":{"test":"datum.value % 50 != 0","value":0.5},"value":1}}},"y":{"field":"v","type":"quantitative","scale":{"type":"log","domain":[0.85,1800],"nice":false},"axis":{"title":null,"values":[1,3.1623,10,31.623,100,316.23,1000],"labels":false,"ticks":false,"gridWidth":{"condition":{"test":"indexof([1,10,100,1000],datum.value) < 0","value":0.5},"value":1}}},"color":{"field":"Dose","type":"nominal","scale":{"domain":["1000 µg/kg QW","600/1000 µg/kg QW","44/76 mg QW"],"range":["#1aa7e1","#63ba6b","#0f4a9c"]}}}}]},
{"spacing":0,"vconcat":[{"data":{"values":[{"r":"PD"}]},"width":79.5,"height":16.5,"view":{"fill":"#d9d9d9","stroke":"#333333"},"mark":{"type":"text","fontSize":13,"color":"#1a1a1a"},"encoding":{"text":{"field":"r","type":"nominal"}}},
{"width":79.5,"height":50,"transform":[{"filter":"datum.p==15"}],"mark":{"type":"line","strokeWidth":1.5,"point":{"filled":true,"size":26}},"encoding":{"x":{"field":"t","type":"quantitative","scale":{"domain":[-9.5,209.5],"nice":false,"zero":false},"axis":{"title":null,"values":[0,25,50,75,100,125,150,175,200],"labels":false,"ticks":false,"gridWidth":{"condition":{"test":"datum.value % 50 != 0","value":0.5},"value":1}}},"y":{"field":"v","type":"quantitative","scale":{"type":"log","domain":[0.85,1800],"nice":false},"axis":{"title":null,"values":[1,3.1623,10,31.623,100,316.23,1000],"labels":false,"ticks":false,"gridWidth":{"condition":{"test":"indexof([1,10,100,1000],datum.value) < 0","value":0.5},"value":1}}},"color":{"field":"Dose","type":"nominal","scale":{"domain":["1000 µg/kg QW","600/1000 µg/kg QW","44/76 mg QW"],"range":["#1aa7e1","#63ba6b","#0f4a9c"]}}}}]},
{"spacing":0,"vconcat":[{"data":{"values":[{"r":"SD"}]},"width":79.5,"height":16.5,"view":{"fill":"#d9d9d9","stroke":"#333333"},"mark":{"type":"text","fontSize":13,"color":"#1a1a1a"},"encoding":{"text":{"field":"r","type":"nominal"}}},
{"width":79.5,"height":50,"transform":[{"filter":"datum.p==16"}],"mark":{"type":"line","strokeWidth":1.5,"point":{"filled":true,"size":26}},"encoding":{"x":{"field":"t","type":"quantitative","scale":{"domain":[-9.5,209.5],"nice":false,"zero":false},"axis":{"title":null,"values":[0,25,50,75,100,125,150,175,200],"labels":false,"ticks":false,"gridWidth":{"condition":{"test":"datum.value % 50 != 0","value":0.5},"value":1}}},"y":{"field":"v","type":"quantitative","scale":{"type":"log","domain":[0.85,1800],"nice":false},"axis":{"title":null,"values":[1,3.1623,10,31.623,100,316.23,1000],"labels":false,"ticks":false,"gridWidth":{"condition":{"test":"indexof([1,10,100,1000],datum.value) < 0","value":0.5},"value":1}}},"color":{"field":"Dose","type":"nominal","scale":{"domain":["1000 µg/kg QW","600/1000 µg/kg QW","44/76 mg QW"],"range":["#1aa7e1","#63ba6b","#0f4a9c"]}}}}]},
{"spacing":0,"vconcat":[{"data":{"values":[{"r":"SD"}]},"width":79.5,"height":16.5,"view":{"fill":"#d9d9d9","stroke":"#333333"},"mark":{"type":"text","fontSize":13,"color":"#1a1a1a"},"encoding":{"text":{"field":"r","type":"nominal"}}},
{"width":79.5,"height":50,"transform":[{"filter":"datum.p==17"}],"mark":{"type":"line","strokeWidth":1.5,"point":{"filled":true,"size":26}},"encoding":{"x":{"field":"t","type":"quantitative","scale":{"domain":[-9.5,209.5],"nice":false,"zero":false},"axis":{"title":null,"values":[0,25,50,75,100,125,150,175,200],"labels":false,"ticks":false,"gridWidth":{"condition":{"test":"datum.value % 50 != 0","value":0.5},"value":1}}},"y":{"field":"v","type":"quantitative","scale":{"type":"log","domain":[0.85,1800],"nice":false},"axis":{"title":null,"values":[1,3.1623,10,31.623,100,316.23,1000],"labels":false,"ticks":false,"gridWidth":{"condition":{"test":"indexof([1,10,100,1000],datum.value) < 0","value":0.5},"value":1}}},"color":{"field":"Dose","type":"nominal","scale":{"domain":["1000 µg/kg QW","600/1000 µg/kg QW","44/76 mg QW"],"range":["#1aa7e1","#63ba6b","#0f4a9c"]}}}}]},
{"spacing":0,"vconcat":[{"data":{"values":[{"r":"SD"}]},"width":79.5,"height":16.5,"view":{"fill":"#d9d9d9","stroke":"#333333"},"mark":{"type":"text","fontSize":13,"color":"#1a1a1a"},"encoding":{"text":{"field":"r","type":"nominal"}}},
{"width":79.5,"height":50,"transform":[{"filter":"datum.p==18"}],"mark":{"type":"line","strokeWidth":1.5,"point":{"filled":true,"size":26}},"encoding":{"x":{"field":"t","type":"quantitative","scale":{"domain":[-9.5,209.5],"nice":false,"zero":false},"axis":{"title":null,"values":[0,25,50,75,100,125,150,175,200],"labels":false,"ticks":false,"gridWidth":{"condition":{"test":"datum.value % 50 != 0","value":0.5},"value":1}}},"y":{"field":"v","type":"quantitative","scale":{"type":"log","domain":[0.85,1800],"nice":false},"axis":{"title":null,"values":[1,3.1623,10,31.623,100,316.23,1000],"labels":false,"ticks":false,"gridWidth":{"condition":{"test":"indexof([1,10,100,1000],datum.value) < 0","value":0.5},"value":1}}},"color":{"field":"Dose","type":"nominal","scale":{"domain":["1000 µg/kg QW","600/1000 µg/kg QW","44/76 mg QW"],"range":["#1aa7e1","#63ba6b","#0f4a9c"]}}}}]},
{"spacing":0,"vconcat":[{"data":{"values":[{"r":"PR"}]},"width":79.5,"height":16.5,"view":{"fill":"#d9d9d9","stroke":"#333333"},"mark":{"type":"text","fontSize":13,"color":"#1a1a1a"},"encoding":{"text":{"field":"r","type":"nominal"}}},
{"width":79.5,"height":50,"transform":[{"filter":"datum.p==19"}],"mark":{"type":"line","strokeWidth":1.5,"point":{"filled":true,"size":26}},"encoding":{"x":{"field":"t","type":"quantitative","scale":{"domain":[-9.5,209.5],"nice":false,"zero":false},"axis":{"title":null,"values":[0,25,50,75,100,125,150,175,200],"labels":false,"ticks":false,"gridWidth":{"condition":{"test":"datum.value % 50 != 0","value":0.5},"value":1}}},"y":{"field":"v","type":"quantitative","scale":{"type":"log","domain":[0.85,1800],"nice":false},"axis":{"title":null,"values":[1,3.1623,10,31.623,100,316.23,1000],"labelExpr":"indexof([1,10,100,1000],datum.value) >= 0 ? format(datum.value,'d') : ''","tickOpacity":{"condition":{"test":"indexof([1,10,100,1000],datum.value) < 0","value":0},"value":1},"gridWidth":{"condition":{"test":"indexof([1,10,100,1000],datum.value) < 0","value":0.5},"value":1}}},"color":{"field":"Dose","type":"nominal","scale":{"domain":["1000 µg/kg QW","600/1000 µg/kg QW","44/76 mg QW"],"range":["#1aa7e1","#63ba6b","#0f4a9c"]}}}}]},
{"spacing":0,"vconcat":[{"data":{"values":[{"r":"VGPR"}]},"width":79.5,"height":16.5,"view":{"fill":"#d9d9d9","stroke":"#333333"},"mark":{"type":"text","fontSize":13,"color":"#1a1a1a"},"encoding":{"text":{"field":"r","type":"nominal"}}},
{"width":79.5,"height":50,"transform":[{"filter":"datum.p==20"}],"mark":{"type":"line","strokeWidth":1.5,"point":{"filled":true,"size":26}},"encoding":{"x":{"field":"t","type":"quantitative","scale":{"domain":[-9.5,209.5],"nice":false,"zero":false},"axis":{"title":null,"values":[0,25,50,75,100,125,150,175,200],"labels":false,"ticks":false,"gridWidth":{"condition":{"test":"datum.value % 50 != 0","value":0.5},"value":1}}},"y":{"field":"v","type":"quantitative","scale":{"type":"log","domain":[0.85,1800],"nice":false},"axis":{"title":null,"values":[1,3.1623,10,31.623,100,316.23,1000],"labels":false,"ticks":false,"gridWidth":{"condition":{"test":"indexof([1,10,100,1000],datum.value) < 0","value":0.5},"value":1}}},"color":{"field":"Dose","type":"nominal","scale":{"domain":["1000 µg/kg QW","600/1000 µg/kg QW","44/76 mg QW"],"range":["#1aa7e1","#63ba6b","#0f4a9c"]}}}}]},
{"spacing":0,"vconcat":[{"data":{"values":[{"r":"VGPR"}]},"width":79.5,"height":16.5,"view":{"fill":"#d9d9d9","stroke":"#333333"},"mark":{"type":"text","fontSize":13,"color":"#1a1a1a"},"encoding":{"text":{"field":"r","type":"nominal"}}},
{"width":79.5,"height":50,"transform":[{"filter":"datum.p==21"}],"mark":{"type":"line","strokeWidth":1.5,"point":{"filled":true,"size":26}},"encoding":{"x":{"field":"t","type":"quantitative","scale":{"domain":[-9.5,209.5],"nice":false,"zero":false},"axis":{"title":null,"values":[0,25,50,75,100,125,150,175,200],"labels":false,"ticks":false,"gridWidth":{"condition":{"test":"datum.value % 50 != 0","value":0.5},"value":1}}},"y":{"field":"v","type":"quantitative","scale":{"type":"log","domain":[0.85,1800],"nice":false},"axis":{"title":null,"values":[1,3.1623,10,31.623,100,316.23,1000],"labels":false,"ticks":false,"gridWidth":{"condition":{"test":"indexof([1,10,100,1000],datum.value) < 0","value":0.5},"value":1}}},"color":{"field":"Dose","type":"nominal","scale":{"domain":["1000 µg/kg QW","600/1000 µg/kg QW","44/76 mg QW"],"range":["#1aa7e1","#63ba6b","#0f4a9c"]}}}}]},
{"spacing":0,"vconcat":[{"data":{"values":[{"r":"VGPR"}]},"width":79.5,"height":16.5,"view":{"fill":"#d9d9d9","stroke":"#333333"},"mark":{"type":"text","fontSize":13,"color":"#1a1a1a"},"encoding":{"text":{"field":"r","type":"nominal"}}},
{"width":79.5,"height":50,"transform":[{"filter":"datum.p==22"}],"mark":{"type":"line","strokeWidth":1.5,"point":{"filled":true,"size":26}},"encoding":{"x":{"field":"t","type":"quantitative","scale":{"domain":[-9.5,209.5],"nice":false,"zero":false},"axis":{"title":null,"values":[0,25,50,75,100,125,150,175,200],"labels":false,"ticks":false,"gridWidth":{"condition":{"test":"datum.value % 50 != 0","value":0.5},"value":1}}},"y":{"field":"v","type":"quantitative","scale":{"type":"log","domain":[0.85,1800],"nice":false},"axis":{"title":null,"values":[1,3.1623,10,31.623,100,316.23,1000],"labels":false,"ticks":false,"gridWidth":{"condition":{"test":"indexof([1,10,100,1000],datum.value) < 0","value":0.5},"value":1}}},"color":{"field":"Dose","type":"nominal","scale":{"domain":["1000 µg/kg QW","600/1000 µg/kg QW","44/76 mg QW"],"range":["#1aa7e1","#63ba6b","#0f4a9c"]}}}}]},
{"spacing":0,"vconcat":[{"data":{"values":[{"r":"VGPR"}]},"width":79.5,"height":16.5,"view":{"fill":"#d9d9d9","stroke":"#333333"},"mark":{"type":"text","fontSize":13,"color":"#1a1a1a"},"encoding":{"text":{"field":"r","type":"nominal"}}},
{"width":79.5,"height":50,"transform":[{"filter":"datum.p==23"}],"mark":{"type":"line","strokeWidth":1.5,"point":{"filled":true,"size":26}},"encoding":{"x":{"field":"t","type":"quantitative","scale":{"domain":[-9.5,209.5],"nice":false,"zero":false},"axis":{"title":null,"values":[0,25,50,75,100,125,150,175,200],"labels":false,"ticks":false,"gridWidth":{"condition":{"test":"datum.value % 50 != 0","value":0.5},"value":1}}},"y":{"field":"v","type":"quantitative","scale":{"type":"log","domain":[0.85,1800],"nice":false},"axis":{"title":null,"values":[1,3.1623,10,31.623,100,316.23,1000],"labels":false,"ticks":false,"gridWidth":{"condition":{"test":"indexof([1,10,100,1000],datum.value) < 0","value":0.5},"value":1}}},"color":{"field":"Dose","type":"nominal","scale":{"domain":["1000 µg/kg QW","600/1000 µg/kg QW","44/76 mg QW"],"range":["#1aa7e1","#63ba6b","#0f4a9c"]}}}}]},
{"spacing":0,"vconcat":[{"data":{"values":[{"r":"VGPR"}]},"width":79.5,"height":16.5,"view":{"fill":"#d9d9d9","stroke":"#333333"},"mark":{"type":"text","fontSize":13,"color":"#1a1a1a"},"encoding":{"text":{"field":"r","type":"nominal"}}},
{"width":79.5,"height":50,"transform":[{"filter":"datum.p==24"}],"mark":{"type":"line","strokeWidth":1.5,"point":{"filled":true,"size":26}},"encoding":{"x":{"field":"t","type":"quantitative","scale":{"domain":[-9.5,209.5],"nice":false,"zero":false},"axis":{"title":null,"values":[0,25,50,75,100,125,150,175,200],"labels":false,"ticks":false,"gridWidth":{"condition":{"test":"datum.value % 50 != 0","value":0.5},"value":1}}},"y":{"field":"v","type":"quantitative","scale":{"type":"log","domain":[0.85,1800],"nice":false},"axis":{"title":null,"values":[1,3.1623,10,31.623,100,316.23,1000],"labels":false,"ticks":false,"gridWidth":{"condition":{"test":"indexof([1,10,100,1000],datum.value) < 0","value":0.5},"value":1}}},"color":{"field":"Dose","type":"nominal","scale":{"domain":["1000 µg/kg QW","600/1000 µg/kg QW","44/76 mg QW"],"range":["#1aa7e1","#63ba6b","#0f4a9c"]}}}}]},
{"spacing":0,"vconcat":[{"data":{"values":[{"r":"CR"}]},"width":79.5,"height":16.5,"view":{"fill":"#d9d9d9","stroke":"#333333"},"mark":{"type":"text","fontSize":13,"color":"#1a1a1a"},"encoding":{"text":{"field":"r","type":"nominal"}}},
{"width":79.5,"height":50,"transform":[{"filter":"datum.p==25"}],"mark":{"type":"line","strokeWidth":1.5,"point":{"filled":true,"size":26}},"encoding":{"x":{"field":"t","type":"quantitative","scale":{"domain":[-9.5,209.5],"nice":false,"zero":false},"axis":{"title":null,"values":[0,25,50,75,100,125,150,175,200],"labelExpr":"datum.value % 50 == 0 ? datum.label : ''","tickOpacity":{"condition":{"test":"datum.value % 50 != 0","value":0},"value":1},"gridWidth":{"condition":{"test":"datum.value % 50 != 0","value":0.5},"value":1}}},"y":{"field":"v","type":"quantitative","scale":{"type":"log","domain":[0.85,1800],"nice":false},"axis":{"title":null,"values":[1,3.1623,10,31.623,100,316.23,1000],"labelExpr":"indexof([1,10,100,1000],datum.value) >= 0 ? format(datum.value,'d') : ''","tickOpacity":{"condition":{"test":"indexof([1,10,100,1000],datum.value) < 0","value":0},"value":1},"gridWidth":{"condition":{"test":"indexof([1,10,100,1000],datum.value) < 0","value":0.5},"value":1}}},"color":{"field":"Dose","type":"nominal","scale":{"domain":["1000 µg/kg QW","600/1000 µg/kg QW","44/76 mg QW"],"range":["#1aa7e1","#63ba6b","#0f4a9c"]}}}}]},
{"spacing":0,"vconcat":[{"data":{"values":[{"r":"sCR"}]},"width":79.5,"height":16.5,"view":{"fill":"#d9d9d9","stroke":"#333333"},"mark":{"type":"text","fontSize":13,"color":"#1a1a1a"},"encoding":{"text":{"field":"r","type":"nominal"}}},
{"width":79.5,"height":50,"transform":[{"filter":"datum.p==26"}],"mark":{"type":"line","strokeWidth":1.5,"point":{"filled":true,"size":26}},"encoding":{"x":{"field":"t","type":"quantitative","scale":{"domain":[-9.5,209.5],"nice":false,"zero":false},"axis":{"title":null,"values":[0,25,50,75,100,125,150,175,200],"labelExpr":"datum.value % 50 == 0 ? datum.label : ''","tickOpacity":{"condition":{"test":"datum.value % 50 != 0","value":0},"value":1},"gridWidth":{"condition":{"test":"datum.value % 50 != 0","value":0.5},"value":1}}},"y":{"field":"v","type":"quantitative","scale":{"type":"log","domain":[0.85,1800],"nice":false},"axis":{"title":null,"values":[1,3.1623,10,31.623,100,316.23,1000],"labels":false,"ticks":false,"gridWidth":{"condition":{"test":"indexof([1,10,100,1000],datum.value) < 0","value":0.5},"value":1}}},"color":{"field":"Dose","type":"nominal","scale":{"domain":["1000 µg/kg QW","600/1000 µg/kg QW","44/76 mg QW"],"range":["#1aa7e1","#63ba6b","#0f4a9c"]}}}}]},
{"spacing":0,"vconcat":[{"data":{"values":[{"r":"sCR"}]},"width":79.5,"height":16.5,"view":{"fill":"#d9d9d9","stroke":"#333333"},"mark":{"type":"text","fontSize":13,"color":"#1a1a1a"},"encoding":{"text":{"field":"r","type":"nominal"}}},
{"width":79.5,"height":50,"transform":[{"filter":"datum.p==27"}],"mark":{"type":"line","strokeWidth":1.5,"point":{"filled":true,"size":26}},"encoding":{"x":{"field":"t","type":"quantitative","scale":{"domain":[-9.5,209.5],"nice":false,"zero":false},"axis":{"title":null,"values":[0,25,50,75,100,125,150,175,200],"labelExpr":"datum.value % 50 == 0 ? datum.label : ''","tickOpacity":{"condition":{"test":"datum.value % 50 != 0","value":0},"value":1},"gridWidth":{"condition":{"test":"datum.value % 50 != 0","value":0.5},"value":1}}},"y":{"field":"v","type":"quantitative","scale":{"type":"log","domain":[0.85,1800],"nice":false},"axis":{"title":null,"values":[1,3.1623,10,31.623,100,316.23,1000],"labels":false,"ticks":false,"gridWidth":{"condition":{"test":"indexof([1,10,100,1000],datum.value) < 0","value":0.5},"value":1}}},"color":{"field":"Dose","type":"nominal","scale":{"domain":["1000 µg/kg QW","600/1000 µg/kg QW","44/76 mg QW"],"range":["#1aa7e1","#63ba6b","#0f4a9c"]}}}}]},
{"data":{"values":[]},"width":79.5,"height":1,"view":{"stroke":null},"mark":"point","encoding":{"x":{"field":"t","type":"quantitative","scale":{"domain":[-9.5,209.5],"nice":false,"zero":false},"axis":{"title":null,"orient":"top","values":[0,50,100,150,200],"grid":false,"ticks":false,"tickSize":0,"labelPadding":0,"labelBaseline":"top"}}}},
{"data":{"values":[]},"width":79.5,"height":1,"view":{"stroke":null},"mark":"point","encoding":{"x":{"field":"t","type":"quantitative","scale":{"domain":[-9.5,209.5],"nice":false,"zero":false},"axis":{"title":null,"orient":"top","values":[0,50,100,150,200],"grid":false,"ticks":false,"tickSize":0,"labelPadding":0,"labelBaseline":"top"}}}},
{"data":{"values":[]},"width":79.5,"height":1,"view":{"stroke":null},"mark":"point","encoding":{"x":{"field":"t","type":"quantitative","scale":{"domain":[-9.5,209.5],"nice":false,"zero":false},"axis":{"title":null,"orient":"top","values":[0,50,100,150,200],"grid":false,"ticks":false,"tickSize":0,"labelPadding":0,"labelBaseline":"top"}}}}
]}],
"config":{
"font":"Liberation Sans",
"view":{"stroke":"#333333","strokeWidth":1},
"axis":{"domain":false,"gridColor":"#ebebeb","tickColor":"#333333","tickSize":3.5,"labelColor":"#4d4d4d","labelFontSize":12,"labelPadding":1.5,"labelOverlap":false,"labelFlush":false},
"axisX":{"labelFont":"Liberation Sans","labelFontSize":11.5},
"legend":{"orient":"right","offset":-2,"padding":0,"titleFontSize":13,"titleFontWeight":"normal","titleColor":"#000000","titlePadding":2,"labelFontSize":12,"labelColor":"#000000","labelOffset":1,"rowPadding":1,"symbolType":"M-1,0L1,0M-0.38,0A0.38,0.38 0 1,1 0.38,0A0.38,0.38 0 1,1 -0.38,0Z","symbolSize":121,"symbolStrokeWidth":1.5},
"title":{"font":"Liberation Sans"}
}
}
